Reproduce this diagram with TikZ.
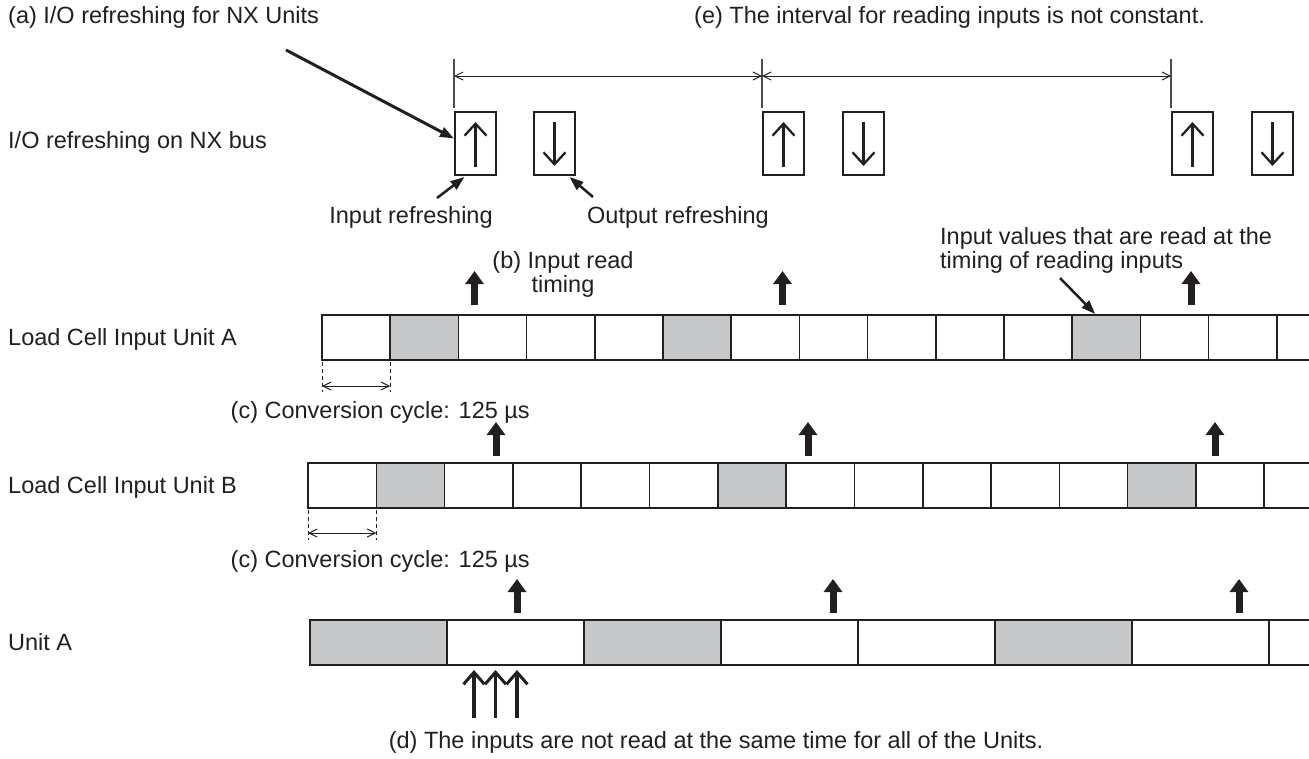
\documentclass[tikz,border=0pt]{standalone}
\usepackage{fontspec}
\setmainfont{Liberation Sans}
\usetikzlibrary{arrows.meta,calc}
\definecolor{cellgray}{RGB}{199,200,202}
\definecolor{ink}{RGB}{35,31,32}
\begin{document}
\begin{tikzpicture}[x=1pt,y=-1pt,
  lbl/.style={inner sep=0pt, font=\fontsize{23.5}{24}\selectfont, text=ink},
  nxbox/.style={draw=ink, line width=2pt, minimum width=41pt, minimum height=63pt, inner sep=0pt, anchor=north west},
  ioarrow/.style={draw=ink, line width=2.3pt, -{Straight Barb[length=12pt,width=22pt,line width=2.3pt]}},
  tickline/.style={draw=ink!80, line width=1.1pt},
  dimline/.style={draw=ink, line width=1pt, {Straight Barb[length=8pt,width=8pt,line width=1pt]}-{Straight Barb[length=8pt,width=8pt,line width=1pt]}},
  callout/.style={draw=ink, line width=2.5pt, -{Triangle[length=14pt,width=10pt]}},
  bigup/.style={draw=ink, line width=7pt, -{Triangle[length=13pt,width=18pt]}},
  barline/.style={draw=ink, line width=2.8pt, line join=miter},
  sepline/.style={draw=ink, line width=1.6pt},
  dashedline/.style={draw=ink, line width=1pt, dash pattern=on 4pt off 3pt},
  graycell/.style={fill=cellgray, draw=none, inner sep=0pt, anchor=north west, minimum height=45pt},
  tripup/.style={draw=ink, line width=3.5pt, -{Straight Barb[length=12pt,width=21pt,line width=3pt]}}
]
\useasboundingbox (0,0) rectangle (1309,758);

% ---------- top texts ----------
\node[lbl, anchor=base west] (ta) at (8,23) {(a) I/O refreshing for NX Units};
\node[lbl, anchor=base west] (te) at (694,23) {(e) The interval for reading inputs is not constant.};
\node[lbl, anchor=base west] (tbus) at (8,148) {I/O refreshing on NX bus};

% ---------- NX bus boxes ----------
\node[nxbox] (b1) at (454,111) {};
\node[nxbox] (b2) at (533,111) {};
\node[nxbox] (b3) at (762,111) {};
\node[nxbox] (b4) at (842,111) {};
\node[nxbox] (b5) at (1171,111) {};
\node[nxbox] (b6) at (1251,111) {};
\foreach \b in {b1,b3,b5} \draw[ioarrow, shorten <=9pt, shorten >=11pt] (\b.south) -- (\b.north);
\foreach \b in {b2,b4,b6} \draw[ioarrow, shorten <=11pt, shorten >=10pt] (\b.north) -- (\b.south);

% ---------- interval dimension ----------
\coordinate (k1) at (454,76);
\coordinate (k2) at (762,76);
\coordinate (k3) at (1171,76);
\draw[tickline] (454,59) -- (454,108);
\draw[tickline] (762,59) -- (762,108);
\draw[tickline] (1171,59) -- (1171,108);
\draw[dimline] (k1) -- (k2);
\draw[dimline] (k2) -- (k3);

% ---------- callouts near boxes ----------
\coordinate (aStart) at (286,50);
\draw[callout, line width=3pt] (aStart) -- ([yshift=5pt]b1.west);
\node[lbl, anchor=base] (tin) at (411,223) {Input refreshing};
\node[lbl, anchor=base west] (tout) at (587,223) {Output refreshing};
\coordinate (inStart) at (437,198);
\coordinate (outStart) at (593,197);
\draw[callout] (inStart) -- ([xshift=-11pt,yshift=-1pt]b1.south);
\draw[callout] (outStart) -- ([xshift=15pt,yshift=-1pt]b2.south);

\node[lbl, anchor=base west, align=left] (tvals) at (940,268) {Input values that are read at the\\timing of reading inputs};
\node[lbl, anchor=base, align=center] (tb) at (563,292) {(b) Input read\\timing};

% ---------- Row A ----------
\node[lbl, anchor=base west] (rowA) at (8,345.5) {Load Cell Input Unit A};
\node[graycell, minimum width=68.2pt] (gA1) at (390.2,315) {};
\node[graycell, minimum width=68.2pt] (gA2) at (663,315) {};
\node[graycell, minimum width=68.2pt] (gA3) at (1072.2,315) {};
\foreach \k in {1,...,14} \draw[sepline] (322+\k*68.2,315) -- (322+\k*68.2,360);
\draw[barline] (1309,315) -- (322,315) -- (322,360) -- (1309,360);
\coordinate (valStart) at (1060,278);
\draw[callout] (valStart) -- ($(gA3.north west)+(23,-1)$);

\foreach \x in {474.5,782.5,1191} \draw[bigup] (\x,305) -- (\x,271);

\draw[dashedline] (322,362) -- (322,392);
\draw[dashedline] (390.2,362) -- (390.2,392);
\coordinate (cA1) at (322,386);
\coordinate (cA2) at (390.2,386);
\draw[dimline] (cA1) -- (cA2);
\node[lbl, anchor=base east] (tcA) at (530,418) {(c) Conversion cycle: 125 µs};

% ---------- Row B ----------
\node[lbl, anchor=base west] (rowB) at (8,493.5) {Load Cell Input Unit B};
\node[graycell, minimum width=68.3pt] (gB1) at (376.3,463) {};
\node[graycell, minimum width=68.3pt] (gB2) at (717.8,463) {};
\node[graycell, minimum width=68.3pt] (gB3) at (1127.6,463) {};
\foreach \k in {1,...,14} \draw[sepline] (308+\k*68.3,463) -- (308+\k*68.3,508);
\draw[barline] (1309,463) -- (308,463) -- (308,508) -- (1309,508);

\foreach \x in {496,808,1215} \draw[bigup] (\x,456) -- (\x,422);

\draw[dashedline] (308,510) -- (308,540);
\draw[dashedline] (376.3,510) -- (376.3,540);
\coordinate (cB1) at (308,533);
\coordinate (cB2) at (376.3,533);
\draw[dimline] (cB1) -- (cB2);
\node[lbl, anchor=base east] (tcB) at (530,567) {(c) Conversion cycle: 125 µs};

% ---------- Unit A ----------
\node[lbl, anchor=base west] (rowU) at (8,650.5) {Unit A};
\node[graycell, minimum width=137pt] (gU1) at (310,620) {};
\node[graycell, minimum width=137pt] (gU2) at (584,620) {};
\node[graycell, minimum width=137pt] (gU3) at (995,620) {};
\foreach \k in {1,...,7} \draw[sepline] (310+\k*137,620) -- (310+\k*137,665);
\draw[barline] (1309,620) -- (310,620) -- (310,665) -- (1309,665);

\foreach \x in {517,833,1239} \draw[bigup] (\x,613) -- (\x,579);

\foreach \x in {474,495.5,517} \draw[tripup] (\x,718) -- (\x,670);

\node[lbl, anchor=base] (td) at (716,748) {(d) The inputs are not read at the same time for all of the Units.};
\end{tikzpicture}
\end{document}
